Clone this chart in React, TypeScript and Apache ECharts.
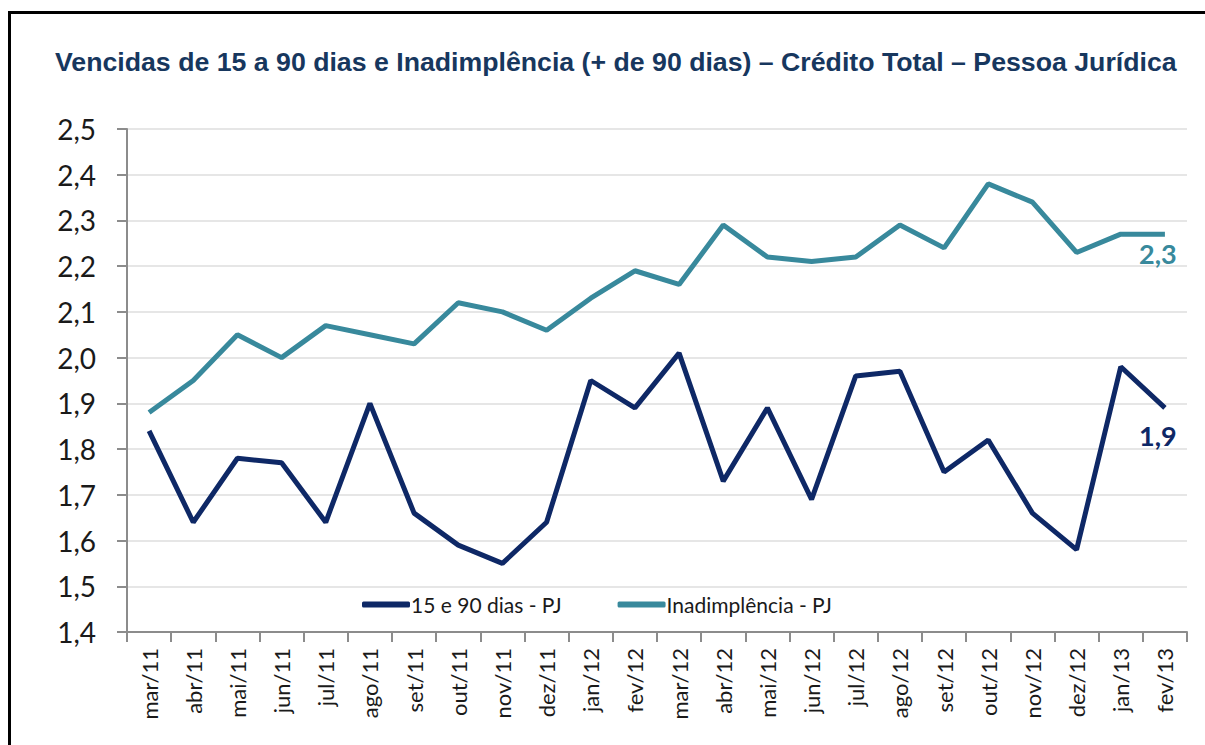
import React, { useEffect, useRef } from "react";
import * as echarts from "echarts";

const categories = [
  "mar/11", "abr/11", "mai/11", "jun/11", "jul/11", "ago/11", "set/11", "out/11",
  "nov/11", "dez/11", "jan/12", "fev/12", "mar/12", "abr/12", "mai/12", "jun/12",
  "jul/12", "ago/12", "set/12", "out/12", "nov/12", "dez/12", "jan/13", "fev/13",
];

const vencidas15a90 = [
  1.84, 1.64, 1.78, 1.77, 1.64, 1.9, 1.66, 1.59, 1.55, 1.64, 1.95, 1.89,
  2.01, 1.73, 1.89, 1.69, 1.96, 1.97, 1.75, 1.82, 1.66, 1.58, 1.98, 1.89,
];

const inadimplencia = [
  1.88, 1.95, 2.05, 2.0, 2.07, 2.05, 2.03, 2.12, 2.1, 2.06, 2.13, 2.19,
  2.16, 2.29, 2.22, 2.21, 2.22, 2.29, 2.24, 2.38, 2.34, 2.23, 2.27, 2.27,
];

const seriesNames = ["15 e 90 dias - PJ", "Inadimplência - PJ"];
const title =
  "Vencidas de 15 a 90 dias e Inadimplência (+ de 90 dias) – Crédito Total – Pessoa Jurídica";

const NAVY = "#0e2866";
const TEAL = "#38899c";
const FONT = "Lato, 'Open Sans', sans-serif";

const fmt = (v: number) => v.toFixed(1).replace(".", ",");

function withEndLabel(values: number[], color: string, offsetY: number) {
  return values.map((v, i) =>
    i === values.length - 1
      ? {
          value: v,
          label: {
            show: true,
            position: "bottom",
            distance: 0,
            offset: [-7, offsetY],
            formatter: () => fmt(v),
            color,
            fontFamily: FONT,
            fontWeight: "bold",
            fontSize: 27,
          },
        }
      : v
  );
}

export default function App() {
  const ref = useRef<HTMLDivElement>(null);

  useEffect(() => {
    if (!ref.current) return;
    const chart = echarts.init(ref.current, undefined, { renderer: "svg" });
    chart.setOption({
      animation: false,
      backgroundColor: "#ffffff",
      title: {
        text: title,
        left: 50,
        top: 43,
        textStyle: {
          fontFamily: "'Liberation Sans', Arial, sans-serif",
          fontWeight: "bold",
          fontSize: 26.7,
          color: "#17375e",
        },
      },
      graphic: [
        {
          type: "rect",
          shape: { x: 9.5, y: 12.5, width: 1300, height: 900 },
          style: { fill: "none", stroke: "#000", lineWidth: 3 },
          silent: true,
        },
      ],
      legend: {
        left: 357,
        top: 589,
        itemWidth: 48,
        itemHeight: 6,
        itemGap: 56,
        icon: "roundRect",
        textStyle: { fontFamily: FONT, fontSize: 21, color: "#1a1a1a", padding: [0, 0, 0, -4] },
        data: seriesNames,
      },
      grid: { left: 127, right: 18, top: 129, bottom: 113 },
      xAxis: {
        type: "category",
        data: categories,
        boundaryGap: true,
        axisLine: { lineStyle: { color: "#8c8c8c", width: 2 } },
        axisTick: { show: true, length: 10, lineStyle: { color: "#8c8c8c", width: 2 } },
        axisLabel: {
          interval: 0,
          rotate: 90,
          margin: 16,
          fontFamily: FONT,
          fontSize: 22,
          color: "#1a1a1a",
        },
      },
      yAxis: {
        type: "value",
        min: 1.4,
        max: 2.5,
        interval: 0.1,
        axisLine: { show: true, lineStyle: { color: "#8c8c8c", width: 2 } },
        axisTick: { show: true, length: 10, lineStyle: { color: "#8c8c8c", width: 2 } },
        splitLine: { lineStyle: { color: "#e6e6e6", width: 2 } },
        axisLabel: {
          margin: 31,
          fontFamily: FONT,
          fontSize: 28,
          color: "#1a1a1a",
          formatter: (v: number) => fmt(v),
        },
      },
      series: [
        {
          name: seriesNames[0],
          type: "line",
          data: withEndLabel(vencidas15a90, NAVY, 14),
          showSymbol: true,
          symbol: "circle",
          symbolSize: 0,
          lineStyle: { color: NAVY, width: 5 },
          itemStyle: { color: NAVY },
        },
        {
          name: seriesNames[1],
          type: "line",
          data: withEndLabel(inadimplencia, TEAL, 6),
          showSymbol: true,
          symbol: "circle",
          symbolSize: 0,
          lineStyle: { color: TEAL, width: 5 },
          itemStyle: { color: TEAL },
        },
      ],
    });
    return () => chart.dispose();
  }, []);

  return (
    <div
      ref={ref}
      style={{ position: "absolute", left: 0, top: 0, width: 1205, height: 745 }}
    />
  );
}
